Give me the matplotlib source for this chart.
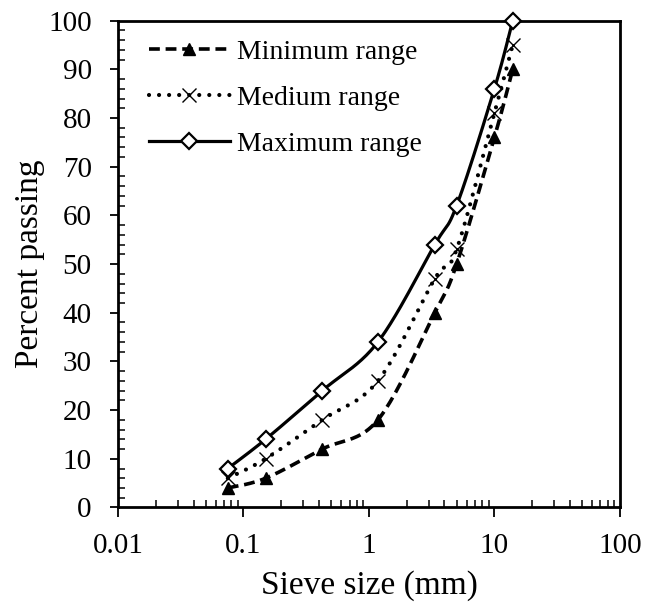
import numpy as np
import matplotlib
matplotlib.use("Agg")
import matplotlib.pyplot as plt
from matplotlib.ticker import FixedLocator, MultipleLocator, LogLocator, NullFormatter, FuncFormatter

plt.rcParams['font.family'] = ['Liberation Serif', 'DejaVu Serif']

sieve_mm = [0.075, 0.15, 0.425, 1.18, 3.35, 5.0, 10.0, 14.0]
minimum_range = [4, 6, 12, 18, 40, 50, 76, 90]
medium_range = [6, 10, 18, 26, 47, 53, 81, 95]
maximum_range = [8, 14, 24, 34, 54, 62, 86, 100]
series_labels = ["Minimum range", "Medium range", "Maximum range"]
x_tick_labels = ["0.01", "0.1", "1", "10", "100"]


def smooth(xs, ys, n=24):
    """Spreadsheet-style smooth line (Catmull-Rom / Bezier) in (log x, y) space."""
    lx = np.log10(np.asarray(xs, float))
    y = np.asarray(ys, float)
    P = np.column_stack([lx, y])
    P = np.vstack([P[0], P, P[-1]])
    out = []
    t = np.linspace(0, 1, n, endpoint=False)[:, None]
    for i in range(1, len(P) - 2):
        p0, p1, p2, p3 = P[i - 1], P[i], P[i + 1], P[i + 2]
        c1 = p1 + (p2 - p0) / 6.0
        c2 = p2 - (p3 - p1) / 6.0
        seg = ((1 - t) ** 3) * p1 + 3 * ((1 - t) ** 2) * t * c1 + 3 * (1 - t) * t ** 2 * c2 + t ** 3 * p2
        out.append(seg)
    out.append(P[-2][None, :])
    S = np.vstack(out)
    return 10 ** S[:, 0], S[:, 1]


fig = plt.figure(figsize=(6.45, 6.07), dpi=100)
ax = fig.add_axes([0.183, 0.164, 0.778, 0.802])

styles = [
    dict(ls=(0, (3.0, 1.6)), lw=2.6, cap='butt', marker='^', ms=9, mfc='black', mec='black', mew=1),
    dict(ls=(0, (0.01, 2.4)), lw=3.0, cap='round', marker='x', ms=9.5, mfc='black', mec='black', mew=1.0),
    dict(ls='-', lw=2.3, cap='butt', marker='D', ms=8, mfc='white', mec='black', mew=1.6),
]
data = [minimum_range, medium_range, maximum_range]

for vals, st, lab in zip(data, styles, series_labels):
    sx, sy = smooth(sieve_mm, vals)
    ax.plot(sx, sy, color='black', ls=st['ls'], lw=st['lw'], dash_capstyle=st['cap'], zorder=2)
    ax.plot(sieve_mm, vals, ls='none', marker=st['marker'], ms=st['ms'], mfc=st['mfc'],
            mec=st['mec'], mew=st['mew'], zorder=4, clip_on=False)
    ax.plot([], [], color='black', ls=st['ls'], lw=st['lw'], marker=st['marker'], ms=st['ms'],
            mfc=st['mfc'], mec=st['mec'], mew=st['mew'], label=lab, dash_capstyle=st['cap'])

ax.set_xscale('log')
ax.set_xlim(0.01, 100)
ax.set_ylim(0, 100)

ax.xaxis.set_major_locator(FixedLocator([0.01, 0.1, 1, 10, 100]))
ax.xaxis.set_major_formatter(FuncFormatter(lambda v, p: x_tick_labels[int(round(np.log10(v))) + 2]))
ax.xaxis.set_minor_locator(LogLocator(base=10, subs=np.arange(2, 10)))
ax.xaxis.set_minor_formatter(NullFormatter())
ax.yaxis.set_major_locator(MultipleLocator(10))
ax.yaxis.set_minor_locator(MultipleLocator(2))

ax.tick_params(axis='both', which='major', direction='out', width=1.3, labelsize=21, colors='black')
ax.tick_params(axis='x', which='major', length=7.5, pad=11)
ax.tick_params(axis='y', which='major', length=6, pad=13)
ax.tick_params(axis='both', which='minor', direction='in', length=5, width=1.1)

for s in ax.spines.values():
    s.set_linewidth(2)
    s.set_color('black')
    s.set_zorder(3)

ax.set_xlabel("Sieve size (mm)", fontsize=24, labelpad=8)
ax.set_ylabel("Percent passing", fontsize=24, labelpad=2)

leg = ax.legend(loc='upper left', bbox_to_anchor=(0.062, 0.962), frameon=False, fontsize=20,
                handlelength=2.9, handletextpad=0.25, labelspacing=0.74, borderaxespad=0,
                borderpad=0, numpoints=1)

fig.savefig("out.png", dpi=100)
